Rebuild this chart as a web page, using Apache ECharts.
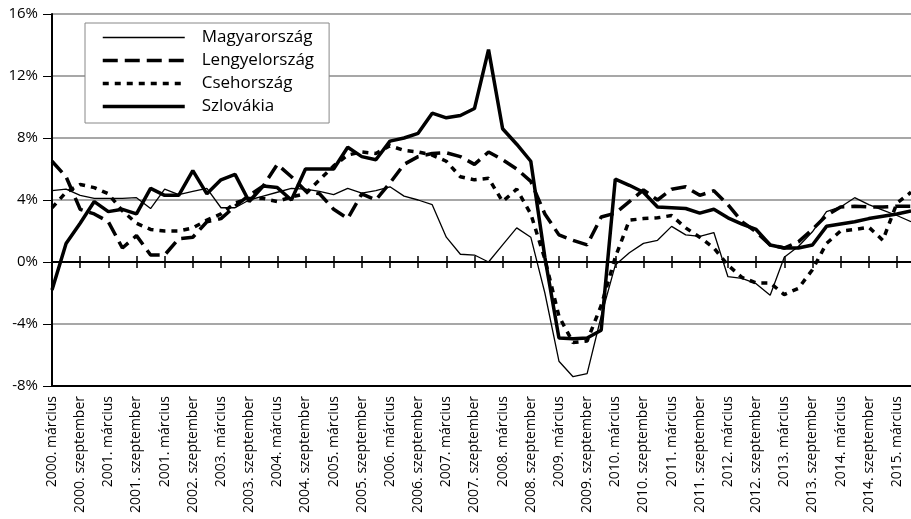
<!DOCTYPE html>
<html>
<head>
<meta charset="utf-8">
<script src="https://cdn.jsdelivr.net/npm/echarts@6/dist/echarts.min.js"></script>
<style>
  html, body { margin: 0; padding: 0; background: #fff; }
  #chart { width: 911px; height: 519px; }
</style>
</head>
<body>
<div id="chart"></div>
<script>
// quarterly GDP growth, 2000 Q1 - 2015 Q2
const quarters = [];
for (let y = 2000; y <= 2015; y++) {
  for (let q = 1; q <= 4; q++) {
    if (y === 2015 && q > 2) break;
    quarters.push(y + "Q" + q);
  }
}

// labels under the axis (every second quarter), as printed in the original
const tickLabels = [
  "2000. március", "2000. szeptember", "2001. március", "2001. szeptember",
  "2001. március", "2002. szeptember", "2003. március", "2003. szeptember",
  "2004. március", "2004. szeptember", "2005. március", "2005. szeptember",
  "2006. március", "2006. szeptember", "2007. március", "2007. szeptember",
  "2008. március", "2008. szeptember", "2009. március", "2009. szeptember",
  "2010. március", "2010. szeptember", "2011. március", "2011. szeptember",
  "2012. március", "2012. szeptember", "2013. március", "2013. szeptember",
  "2014. március", "2014. szeptember", "2015. március",
];

const magyar = [
  4.6, 4.7, 4.3, 4.1, 4.1, 4.1, 4.15, 3.45, 4.7, 4.35,
  4.55, 4.75, 3.5, 3.5, 4.0, 4.25, 4.5, 4.75, 4.7, 4.55,
  4.35, 4.75, 4.45, 4.6, 4.85, 4.25, 4.0, 3.7, 1.6, 0.5,
  0.45, 0.0, 1.1, 2.2, 1.6, -2.0, -6.4, -7.4, -7.2, -3.5,
  -0.2, 0.6, 1.2, 1.4, 2.3, 1.75, 1.65, 1.9, -0.95, -1.05,
  -1.4, -2.15, 0.3, 1.0, 1.95, 3.25, 3.55, 4.15, 3.7, 3.35,
  3.0, 2.6,
];

const lengyel = [
  6.5, 5.5, 3.4, 3.1, 2.6, 0.9, 1.7, 0.45, 0.45, 1.5,
  1.6, 2.6, 2.8, 3.6, 4.3, 4.9, 6.3, 5.5, 4.6, 4.4,
  3.4, 2.8, 4.4, 4.0, 5.1, 6.3, 6.8, 7.0, 7.05, 6.8,
  6.3, 7.1, 6.6, 6.0, 5.2, 3.1, 1.75, 1.4, 1.1, 2.9,
  3.15, 3.9, 4.65, 4.0, 4.7, 4.85, 4.3, 4.6, 3.7, 2.6,
  1.95, 1.1, 0.9, 1.3, 2.1, 3.0, 3.55, 3.6, 3.55, 3.55,
  3.6, 3.6,
];

const cseh = [
  3.5, 4.5, 5.0, 4.8, 4.4, 3.3, 2.5, 2.1, 2.0, 2.0,
  2.2, 2.7, 3.1, 3.8, 4.1, 4.1, 3.9, 4.2, 4.4, 5.3,
  6.2, 6.9, 7.1, 7.0, 7.5, 7.2, 7.1, 6.9, 6.5, 5.5,
  5.3, 5.4, 3.9, 4.7, 3.1, 0.2, -3.5, -5.2, -5.1, -2.8,
  0.3, 2.7, 2.8, 2.85, 3.0, 2.2, 1.6, 0.9, -0.2, -1.0,
  -1.35, -1.35, -2.1, -1.7, -0.5, 1.2, 2.0, 2.1, 2.25, 1.4,
  3.8, 4.5,
];

const szlovakia = [
  -1.8, 1.2, 2.5, 3.9, 3.25, 3.4, 3.1, 4.75, 4.3, 4.3,
  5.9, 4.4, 5.3, 5.65, 3.9, 4.9, 4.8, 4.0, 6.0, 6.0,
  6.0, 7.4, 6.8, 6.6, 7.8, 8.0, 8.3, 9.6, 9.3, 9.45,
  9.9, 13.7, 8.6, 7.6, 6.5, 0.3, -4.9, -4.95, -4.9, -4.4,
  5.35, 4.95, 4.5, 3.55, 3.5, 3.45, 3.15, 3.4, 2.85, 2.45,
  2.1, 1.1, 0.9, 0.9, 1.1, 2.3, 2.45, 2.6, 2.8, 2.95,
  3.1, 3.3,
];

const font = "Open Sans";
const thin = { color: "#000", width: 1.3, type: "solid" };
const dashed = { color: "#000", width: 3.5, type: [15, 7] };
const dotted = { color: "#000", width: 3.5, type: [6, 6] };
const thick = { color: "#000", width: 3.5, type: "solid" };
// the legend would otherwise put a coloured dot in the middle of each line
const noDot = { color: "rgba(0,0,0,0)", borderWidth: 0, opacity: 0 };

const chart = echarts.init(document.getElementById("chart"), null, { renderer: "canvas" });

// the zero line carries crossing tick marks: one axis ticks down, one ticks up
function zeroAxis(position) {
  return {
    type: "category",
    data: quarters,
    boundaryGap: false,
    position: position,
    axisLine: { show: true, onZero: true, onZeroAxisIndex: 0, lineStyle: { color: "#000", width: 2 } },
    axisTick: { show: true, interval: 1, length: 6, lineStyle: { color: "#000", width: 1.5 } },
    axisLabel: { show: false },
    splitLine: { show: false },
  };
}

chart.setOption({
  animation: false,
  color: ["#000", "#000", "#000", "#000"],
  textStyle: { fontFamily: font },
  grid: { left: 52, right: 0, top: 14, bottom: 133, outerBoundsMode: "none" },
  legend: {
    orient: "vertical",
    left: 85,
    top: 23,
    padding: [6, 15, 8, 16],
    itemWidth: 82,
    itemHeight: 14,
    itemGap: 6,
    borderColor: "#888",
    borderWidth: 1,
    backgroundColor: "#fff",
    textStyle: { fontSize: 17, color: "#000", fontFamily: font, padding: [0, 0, 0, 12] },
    data: [
      { name: "Magyarország", lineStyle: thin, itemStyle: noDot },
      { name: "Lengyelország", lineStyle: dashed, itemStyle: noDot },
      { name: "Csehország", lineStyle: dotted, itemStyle: noDot },
      { name: "Szlovákia", lineStyle: thick, itemStyle: noDot },
    ],
  },
  xAxis: [
    {
      type: "category",
      data: quarters,
      boundaryGap: false,
      position: "bottom",
      axisLine: { show: true, onZero: false, lineStyle: { color: "#000", width: 2 } },
      axisTick: { show: false },
      axisLabel: {
        interval: 1,
        rotate: 90,
        margin: 10,
        fontSize: 14,
        color: "#000",
        fontFamily: font,
        formatter: function (value, index) {
          return tickLabels[index / 2] || "";
        },
      },
      splitLine: { show: false },
    },
    zeroAxis("bottom"),
    zeroAxis("top"),
  ],
  yAxis: {
    type: "value",
    min: -8,
    max: 16,
    interval: 4,
    axisLine: { show: true, onZero: false, lineStyle: { color: "#000", width: 2 } },
    axisTick: { show: true, length: 9, lineStyle: { color: "#000", width: 1 } },
    axisLabel: {
      margin: 14,
      fontSize: 15,
      color: "#000",
      fontFamily: font,
      formatter: "{value}%",
    },
    splitLine: { lineStyle: { color: "#8a8a8a", width: 1.5 } },
  },
  series: [
    { name: "Magyarország", type: "line", data: magyar, symbol: "none", lineStyle: thin, z: 3 },
    { name: "Lengyelország", type: "line", data: lengyel, symbol: "none", lineStyle: dashed, z: 3 },
    { name: "Csehország", type: "line", data: cseh, symbol: "none", lineStyle: dotted, z: 3 },
    { name: "Szlovákia", type: "line", data: szlovakia, symbol: "none", lineStyle: thick, z: 4 },
  ],
});
</script>
</body>
</html>
